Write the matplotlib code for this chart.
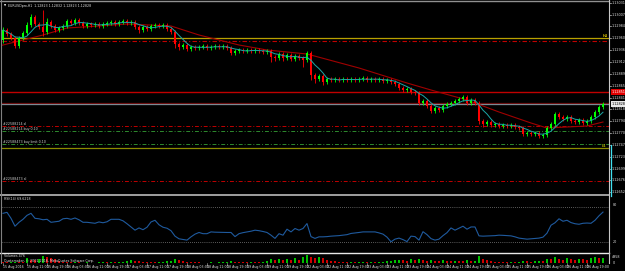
import matplotlib
matplotlib.use('Agg')
import matplotlib.pyplot as plt
import numpy as np

W, H = 625, 271
fig = plt.figure(figsize=(W / 100, H / 100), dpi=100, facecolor='black')

# ---------------- data (prices in 1e-5 points) ----------------
first_open_pts = 112956
close_pts = [112976, 112968, 112960, 112944, 112960, 112970, 112986, 113002, 112988, 112982,
             112972, 112992, 112984, 112976, 112980, 112984, 112994, 112990, 112996, 112990,
             112984, 112988, 112986, 112988, 112984, 112988, 112990, 112992, 112988, 112992,
             112994, 112990, 112992, 112982, 112976, 112982, 112978, 112984, 112986, 112984,
             112986, 112978, 112972, 112948, 112942, 112946, 112938, 112942, 112940, 112942,
             112944, 112940, 112942, 112944, 112942, 112944, 112940, 112930, 112934, 112936,
             112934, 112936, 112934, 112936, 112934, 112932, 112934, 112922, 112920, 112928,
             112920, 112926, 112918, 112924, 112920, 112916, 112930, 112886, 112878, 112884,
             112872, 112878, 112876, 112878, 112876, 112878, 112876, 112878, 112876, 112878,
             112880, 112876, 112878, 112876, 112878, 112874, 112876, 112872, 112868, 112860,
             112856, 112858, 112852, 112850, 112830, 112834, 112824, 112814, 112820, 112816,
             112824, 112828, 112830, 112834, 112838, 112842, 112830, 112836, 112830, 112794,
             112788, 112792, 112786, 112788, 112784, 112786, 112784, 112786, 112782, 112780,
             112768, 112770, 112768, 112770, 112764, 112766, 112780, 112788, 112808, 112802,
             112798, 112802, 112794, 112792, 112796, 112790, 112794, 112802, 112812, 112822,
             112828]
high_pts = [112982, 112980, 112972, 112964, 112964, 112974, 112992, 113008, 113006, 112992,
            113016, 113000, 112996, 112988, 112984, 112988, 112998, 112998, 113000, 113000,
            112994, 112992, 112992, 112992, 112992, 112992, 112994, 112996, 112996, 112996,
            112998, 112998, 112996, 112996, 112986, 112986, 112986, 112988, 112990, 112990,
            112990, 112990, 112982, 112976, 112952, 112950, 112950, 112946, 112946, 112946,
            112948, 112948, 112946, 112948, 112948, 112948, 112948, 112944, 112938, 112940,
            112940, 112940, 112940, 112940, 112940, 112938, 112938, 112938, 112926, 112932,
            112932, 112930, 112930, 112928, 112928, 112924, 112934, 112934, 112890, 112888,
            112888, 112882, 112882, 112882, 112882, 112882, 112882, 112882, 112882, 112882,
            112884, 112884, 112882, 112882, 112882, 112882, 112880, 112880, 112876, 112872,
            112864, 112862, 112862, 112856, 112854, 112838, 112838, 112828, 112824, 112824,
            112828, 112832, 112834, 112838, 112842, 112846, 112846, 112840, 112840, 112834,
            112798, 112796, 112796, 112792, 112792, 112790, 112790, 112790, 112790, 112786,
            112784, 112774, 112774, 112774, 112774, 112770, 112784, 112792, 112812, 112812,
            112806, 112806, 112806, 112798, 112800, 112800, 112798, 112806, 112816, 112826,
            112832]
low_pts = [112950, 112964, 112956, 112940, 112940, 112956, 112966, 112982, 112984, 112978,
           112964, 112968, 112980, 112972, 112972, 112976, 112980, 112986, 112986, 112986,
           112980, 112980, 112982, 112982, 112980, 112980, 112984, 112986, 112984, 112984,
           112988, 112986, 112986, 112978, 112970, 112972, 112974, 112974, 112980, 112980,
           112980, 112974, 112968, 112940, 112936, 112938, 112934, 112934, 112936, 112936,
           112938, 112936, 112936, 112938, 112938, 112938, 112936, 112926, 112926, 112930,
           112930, 112930, 112930, 112930, 112930, 112928, 112928, 112912, 112914, 112916,
           112914, 112916, 112914, 112914, 112916, 112902, 112912, 112876, 112870, 112874,
           112866, 112868, 112872, 112872, 112872, 112872, 112872, 112872, 112872, 112872,
           112874, 112872, 112872, 112872, 112872, 112870, 112870, 112868, 112864, 112856,
           112852, 112852, 112848, 112846, 112826, 112826, 112820, 112810, 112810, 112812,
           112812, 112820, 112824, 112826, 112830, 112834, 112826, 112826, 112826, 112788,
           112782, 112784, 112782, 112782, 112780, 112780, 112780, 112780, 112778, 112776,
           112764, 112764, 112764, 112764, 112760, 112760, 112762, 112776, 112784, 112798,
           112794, 112794, 112790, 112788, 112788, 112786, 112786, 112790, 112798, 112808,
           112818]

slow_ma_bars = [-1, 10, 16, 24, 31, 42, 49, 59, 66, 76, 89, 101, 107, 116, 124, 132, 136, 141, 146, 150]
slow_ma = [1.12944, 1.12966, 1.12980, 1.12984, 1.12988, 1.12984, 1.12966, 1.12946, 1.12936, 1.12928,
           1.12900, 1.12870, 1.12856, 1.12836, 1.12812, 1.12790, 1.12780, 1.12782, 1.12784, 1.12792]

rsi = [69.0, 70.7, 60.3, 46.6, 53.4, 58.6, 65.5, 69.0, 60.3, 59.5,
       57.8, 58.6, 53.4, 54.3, 55.2, 59.5, 60.3, 58.6, 60.9, 57.8,
       53.4, 53.4, 52.6, 51.7, 54.0, 52.6, 54.3, 58.6, 58.6, 58.6,
       56.0, 50.9, 45.3, 39.7, 43.6, 40.5, 44.8, 54.0, 56.9, 49.1,
       44.8, 43.1, 38.8, 29.3, 24.7, 23.6, 22.4, 28.1, 32.8, 35.7,
       33.6, 33.6, 36.7, 36.2, 36.0, 35.7, 35.7, 35.7, 28.5, 33.6,
       35.4, 36.7, 37.9, 39.7, 38.8, 37.4, 35.7, 31.0, 25.4, 33.6,
       31.0, 41.4, 36.7, 42.6, 39.7, 42.6, 51.2, 28.5, 25.4, 28.1,
       28.1, 28.5, 29.3, 29.8, 30.2, 31.0, 31.9, 34.0, 34.8, 35.7,
       36.7, 36.7, 36.7, 36.7, 35.0, 32.8, 27.6, 19.5, 24.1, 25.9,
       23.3, 19.8, 29.3, 28.5, 22.4, 37.1, 31.9, 25.0, 22.4, 24.1,
       30.2, 35.4, 43.6, 39.7, 43.1, 46.6, 41.4, 45.3, 45.3, 29.8,
       29.3, 29.6, 29.8, 30.2, 31.0, 30.7, 30.2, 29.8, 28.1, 25.9,
       25.0, 24.1, 24.7, 25.4, 25.9, 27.6, 34.5, 48.3, 52.6, 59.5,
       55.2, 56.9, 52.9, 50.9, 50.0, 51.7, 52.1, 51.7, 56.9, 64.7,
       71.2]

volumes = [500, 400, 600, 900, 700, 600, 3000, 2000, 1600, 2200,
           4200, 3600, 3000, 2600, 1500,
           600, 500, 400, 500, 400, 300, 400, 300, 300, 400, 500, 400, 600, 500, 700,
           900, 1300, 1800, 1500, 1100, 900, 700, 600, 500, 600,
           700, 1000, 1500, 2200, 1600, 1000, 700, 500, 400, 400,
           300, 300, 400, 300, 400, 500, 700, 1400, 900, 800,
           700, 600, 800, 700, 600, 700, 1000,
           2400, 1900, 2600, 1800, 2300, 1700, 2900, 1900, 3400,
           4958,
           3700, 3200, 3500, 2900,
           2000, 1500, 1200, 900, 800, 700, 800, 600, 700, 900, 700, 800, 600, 700, 900, 1100, 1300, 1600,
           2100, 1800, 1400, 2300, 1700, 2600, 2000, 1500, 1900, 1400, 1200, 1700, 1300, 1100, 1500, 1200,
           1000, 1600, 1200, 1400,
           4500,
           2400, 1600, 1200, 900, 800, 700, 600, 800, 700, 900, 1400, 1100, 900, 1000, 1300, 1200,
           2600, 2200, 3400, 2500, 2000, 2800, 2300, 1900, 2700, 2200, 2000, 2900, 3600, 2800, 3200]

price_ticks = [1.13031, 1.13007, 1.12984, 1.12960, 1.12936, 1.12912, 1.12889, 1.12865, 1.12841,
               1.12818, 1.12794, 1.12770, 1.12747, 1.12723, 1.12699, 1.12676, 1.12652]

time_labels = ['15 Aug 2016', '15 Aug 11:00', '15 Aug 19:00', '16 Aug 03:00', '16 Aug 11:00',
               '16 Aug 19:00', '17 Aug 03:00', '17 Aug 11:00', '17 Aug 19:00', '18 Aug 03:00',
               '18 Aug 11:00', '18 Aug 19:00', '19 Aug 03:00', '19 Aug 11:00', '19 Aug 19:00',
               '22 Aug 03:00', '22 Aug 11:00', '22 Aug 19:00', '23 Aug 03:00', '23 Aug 11:00',
               '23 Aug 19:00', '24 Aug 03:00', '24 Aug 11:00', '24 Aug 19:00', '25 Aug 03:00',
               '25 Aug 11:00', '25 Aug 19:00', '26 Aug 03:00', '26 Aug 11:00', '26 Aug 19:00']
time_label_bars = [0, 6, 11, 16, 21, 26, 31, 36, 41, 46, 51, 56, 61, 66, 71, 76, 81, 86, 91, 96,
                   101, 106, 111, 116, 121, 126, 131, 136, 141, 146]

header = 'EURUSDpro,H1  1.12823 1.12832 1.12823 1.12828'
rsi_header = 'RSI(14) 69.6218'
vol_header = 'Volumes 476'
copyright_txt = 'Quotemaker, \u00a9 2001-2016, MetaQuotes Software Corp.'

# ---------------- derived ----------------
closes = np.array(close_pts) / 1e5
highs = np.array(high_pts) / 1e5
lows = np.array(low_pts) / 1e5
opens = np.concatenate([[first_open_pts / 1e5], closes[:-1]])
N = len(closes)
idx = np.arange(N)
fast_ma = np.array([closes[max(0, i - 4):i + 1].mean() for i in range(N)])

P0, K = 1.13036, 0.00002   # price at pixel row 0, price per pixel
def ypx(price):
    return (P0 - price) / K

def px_axes(x0, y0, x1, y1):
    ax = fig.add_axes([x0 / W, 1 - y1 / H, (x1 - x0) / W, (y1 - y0) / H])
    ax.set_facecolor('black')
    ax.set_axis_off()
    return ax

TXT = dict(color='#e0e0e0', fontsize=2.3, family='DejaVu Sans')
AX_TXT = dict(color='#e0e0e0', fontsize=2.4, family='DejaVu Sans')

# ---------------- main panel ----------------
ax = px_axes(2, 2, 609, 194)
ax.set_xlim(-0.25, 151.5)
ax.set_ylim(P0 - 194 * K, P0 - 2 * K)

DD = (0, (4, 2, 1, 2))
ax.axhline(P0 - 38.3 * K, color='#b8a000', lw=0.9)
ax.axhline(P0 - 40.5 * K, color='#c00000', lw=0.8, ls=DD)
ax.axhline(P0 - 92.3 * K, color='#c00000', lw=1.0)
ax.axhline(P0 - 102.6 * K, color='#6a0000', lw=0.9)
ax.axhline(P0 - 104.2 * K, color='#7c8a94', lw=0.9)
ax.axhline(P0 - 126.2 * K, color='#c00000', lw=0.7, ls=DD)
ax.axhline(P0 - 131.0 * K, color='#2e8b2e', lw=0.7, ls=DD)
ax.axhline(P0 - 144.0 * K, color='#2e8b2e', lw=0.7, ls=DD)
ax.axhline(P0 - 148.3 * K, color='#8c8c00', lw=0.9)
ax.axhline(P0 - 180.7 * K, color='#c00000', lw=0.7, ls=DD)

ax.plot(slow_ma_bars, slow_ma, color='#a00000', lw=0.8, zorder=2)

up = closes >= opens
colors = np.where(up, '#00ff00', '#ff0000')
ax.vlines(idx, lows, highs, colors=colors, lw=0.6, zorder=3)
body_lo = np.minimum(opens, closes)
body_h = np.maximum(np.abs(closes - opens), 0.6 * K)
ax.bar(idx, body_h, bottom=body_lo, width=0.6, color=colors, linewidth=0, zorder=3)

ax.plot(idx, fast_ma, color='#1aa7a7', lw=0.7, zorder=4)

fig.text(3.5 / W, 1 - 5.5 / H, '\u25bc', color='white', fontsize=2.0, va='center')
fig.text(8 / W, 1 - 5.5 / H, header, va='center', **TXT)

for y, s in [(124.3, '#22588214 sl'), (128.7, '#22588214 buy 0.10'),
             (141.7, '#22588473 buy limit 0.10'), (179.3, '#22588473 sl')]:
    fig.text(3 / W, 1 - y / H, s, va='center', color='#d0d0d0', fontsize=2.3)
fig.text(603 / W, 1 - 36 / H, 'H4', va='center', color='#c8b400', fontsize=2.4, fontweight='bold')
fig.text(602 / W, 1 - 146.3 / H, 'L4', va='center', color='#a0a000', fontsize=2.4, fontweight='bold')

for p in price_ticks:
    y = ypx(p)
    fig.text(612 / W, 1 - y / H, f'{p:.5f}', va='center', **AX_TXT)
    fig.add_artist(plt.Line2D([609 / W, 611 / W], [1 - y / H] * 2, color='#c0c0c0', lw=0.5))
for p, fc, tc in [(P0 - 92.3 * K, '#e00000', 'white'), (P0 - 104.2 * K, '#e8e8e8', 'black')]:
    y = ypx(p)
    fig.text(611.5 / W, 1 - y / H, f'{p:.5f}', va='center', color=tc, fontsize=2.4,
             bbox=dict(boxstyle='square,pad=0.3', fc=fc, ec='none'))

# ---------------- RSI panel ----------------
axr = px_axes(2, 195.5, 609, 253)
axr.set_xlim(-0.25, 151.5)
axr.set_ylim(0, 100)
axr.axhline(80, color='#b0b0b0', lw=0.5, ls=(0, (1, 2)))
axr.axhline(20, color='#b0b0b0', lw=0.5, ls=(0, (1, 2)))
axr.plot(idx, rsi, color='#1f5a9e', lw=0.8)
fig.text(3.5 / W, 1 - 198.5 / H, rsi_header, va='center', **TXT)
for v, y in [(80, 205.5), (20, 242)]:
    fig.text(613 / W, 1 - y / H, str(v), va='center', **AX_TXT)

# ---------------- volume panel ----------------
axv = px_axes(2, 254, 609, 263)
axv.set_xlim(-0.25, 151.5)
axv.set_ylim(0, 5400)
vol = np.array(volumes)
vcol = ['#00c000' if (i > 0 and vol[i] > vol[i - 1]) else '#d00000' for i in range(N)]
axv.bar(idx, vol, width=0.5, color=vcol, linewidth=0)
fig.text(3.5 / W, 1 - 256.3 / H, vol_header, va='center', **TXT)
fig.text(3.5 / W, 1 - 260.8 / H, copyright_txt, va='center', **TXT)
fig.text(612 / W, 1 - 257 / H, '4958', va='center', **AX_TXT)
fig.text(613 / W, 1 - 263.5 / H, '0', va='center', **AX_TXT)

# ---------------- frame lines ----------------
def hline(y, x0, x1, color, lw):
    fig.add_artist(plt.Line2D([x0 / W, x1 / W], [1 - y / H] * 2, color=color, lw=lw))
def vline(x, y0, y1, color, lw):
    fig.add_artist(plt.Line2D([x / W] * 2, [1 - y0 / H, 1 - y1 / H], color=color, lw=lw))

hline(0.8, 0, 609, '#909090', 1.0)
hline(194.6, 0, 609, '#a0a0a0', 1.4)
hline(253.3, 0, 609, '#e8e8e8', 1.0)
vline(0.8, 0, 263, '#808080', 0.8)
vline(609.3, 0, 263, '#c8c8c8', 0.8)
vline(610.5, 145, 196, '#40e0f0', 0.9)

for b, s in zip(time_label_bars, time_labels):
    x = 3 + 4 * b
    fig.text(x / W, 1 - 266.8 / H, s, va='center', **TXT)
    vline(x, 263, 265, '#c0c0c0', 0.4)

fig.savefig('out.png', dpi=100, facecolor='black')
